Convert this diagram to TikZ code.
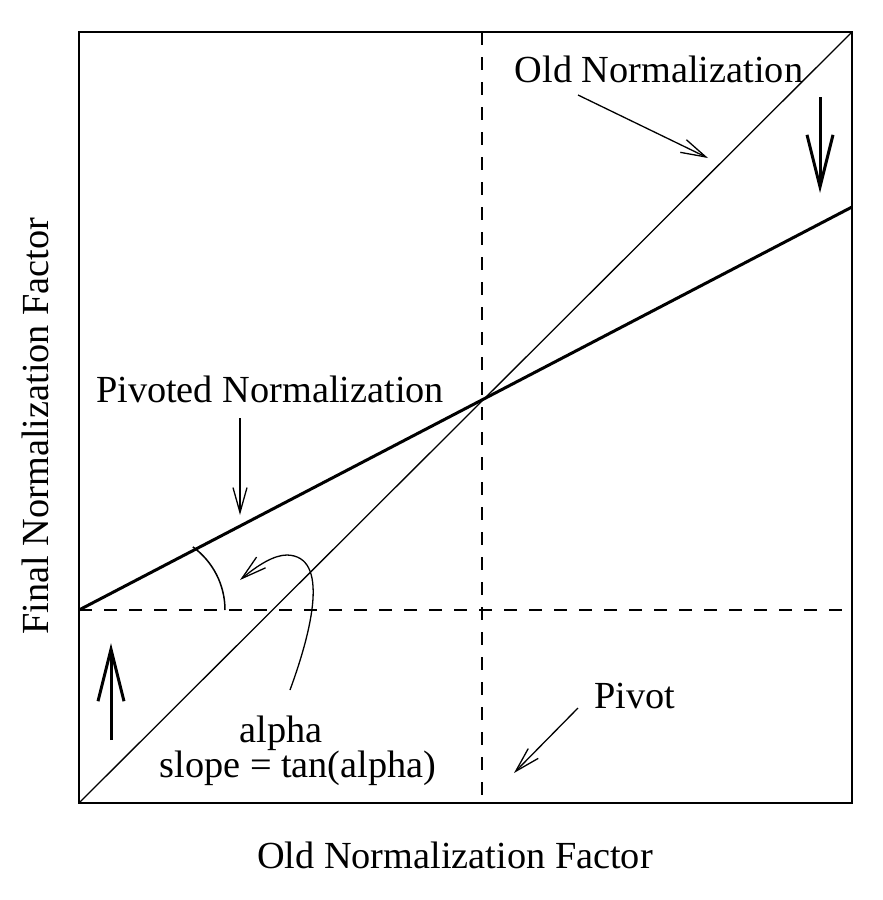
\documentclass[tikz,border=0pt]{standalone}
\usepackage{fontspec}
\setmainfont{Liberation Serif}
\usetikzlibrary{arrows.meta}
\begin{document}
\begin{tikzpicture}[x=1pt,y=-1pt,
  lbl/.style={inner sep=0pt,anchor=base,font=\fontsize{38.3}{46}\selectfont},
  thin/.style={line width=1.3pt},
  thinarrow/.style={line width=1.3pt,-{Straight Barb[length=25pt,width=14pt]}},
  thickarrow/.style={line width=3pt,-{Straight Barb[length=52pt,width=26pt]}},
  dashline/.style={line width=1.3pt,dash pattern=on 13pt off 12pt}]
\useasboundingbox (0,0) rectangle (883,900);
% frame corners
\coordinate (bl) at (79,803);
\coordinate (tr) at (852,32);
\coordinate (pivot) at (482,401);
\coordinate (vtop) at (482,32);
\coordinate (vbot) at (482,803);
\coordinate (hl) at (79,610);
\coordinate (hr) at (852,610);
\coordinate (pend) at (852,207);
% dashed lines
\draw[dashline] (vtop) -- (vbot);
\draw[dashline] (hl) -- (hr);
% old normalization diagonal
\draw[thin] (bl) -- (tr);
% pivoted normalization
\draw[line width=3pt] (hl) -- (pend);
% frame
\draw[line width=2pt] (bl) rectangle (tr);
% labels
\node[lbl] (oldn) at (659,82) {Old Normalization};
\node[lbl] (pivn) at (270,402) {Pivoted Normalization};
\node[lbl] (pivt) at (635,708) {Pivot};
\node[lbl] (alph) at (281,742) {alpha};
\node[lbl] (slope) at (298,777) {slope = tan(alpha)};
\node[lbl] (xlab) at (455,868) {Old Normalization Factor};
\node[lbl,rotate=90] (ylab) at (48,426) {Final Normalization Factor};
% annotation arrows
\coordinate (a1s) at (578,95);   \coordinate (a1e) at (708,158);
\coordinate (a2s) at (240,418);  \coordinate (a2e) at (240,515);
\coordinate (a3s) at (578,708);  \coordinate (a3e) at (514,773);
\draw[thinarrow] (a1s) -- (a1e);
\draw[thinarrow] (a2s) -- (a2e);
\draw[thinarrow] (a3s) -- (a3e);
% curved arrow from alpha
\coordinate (c0) at (290,690);
\coordinate (c1) at (287,555);
\coordinate (c2) at (240,580);
\draw[thinarrow] (c0) .. controls (312,630) and (330,556) .. (c1)
  .. controls (274,555) and (258,565) .. (c2);
% angle arc
\draw[line width=1.5pt] (225,610) arc[start angle=0,end angle=54,radius=78pt];
% thick movement arrows
\coordinate (d1s) at (820,97);  \coordinate (d1e) at (820,193);
\coordinate (u1s) at (111,740); \coordinate (u1e) at (111,643);
\draw[thickarrow] (d1s) -- (d1e);
\draw[thickarrow] (u1s) -- (u1e);
\end{tikzpicture}
\end{document}
